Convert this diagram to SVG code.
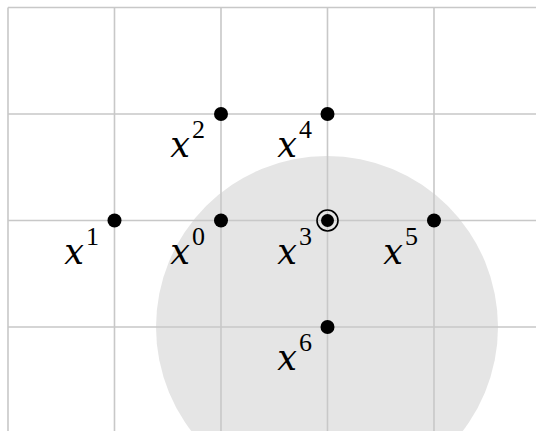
<svg xmlns="http://www.w3.org/2000/svg" width="536" height="431" viewBox="0 0 536 431">
<style>
.grid{stroke:#c8c8c8;stroke-width:1.6;fill:none}
.pt{fill:#000}
.lbl{font-family:"DejaVu Serif","Liberation Serif",serif;font-style:italic;font-size:35px;fill:#000;text-anchor:end}
.sup{font-family:"Liberation Serif","DejaVu Serif",serif;font-style:normal;font-size:26px}
</style>
<rect width="536" height="431" fill="#fff"/>
<circle cx="327" cy="327" r="171" fill="#e5e5e5"/>
<g id="grid" class="grid">
<path d="M8 7.5V431M114.5 7.5V431M221 7.5V431M327.5 7.5V431M434 7.5V431"/>
<path d="M8 7.5H536M8 114H536M8 220.5H536M8 327H536"/>
</g>
<g id="connectors"></g>
<g id="x0"><circle class="pt" cx="221" cy="220.5" r="7"/><text class="lbl" x="205" y="264">x<tspan class="sup" dx="2" dy="-19">0</tspan></text></g>
<g id="x1"><circle class="pt" cx="114.5" cy="220.5" r="7"/><text class="lbl" x="99" y="264">x<tspan class="sup" dx="2" dy="-19">1</tspan></text></g>
<g id="x2"><circle class="pt" cx="221" cy="114" r="7"/><text class="lbl" x="205" y="157">x<tspan class="sup" dx="2" dy="-19">2</tspan></text></g>
<g id="x3"><circle class="pt" cx="327.5" cy="220.5" r="6.5"/><circle cx="327.5" cy="220.5" r="10.5" fill="none" stroke="#000" stroke-width="1.6"/><text class="lbl" x="312" y="264">x<tspan class="sup" dx="2" dy="-19">3</tspan></text></g>
<g id="x4"><circle class="pt" cx="327.5" cy="114" r="7"/><text class="lbl" x="312" y="157">x<tspan class="sup" dx="2" dy="-19">4</tspan></text></g>
<g id="x5"><circle class="pt" cx="434" cy="220.5" r="7"/><text class="lbl" x="418" y="264">x<tspan class="sup" dx="2" dy="-19">5</tspan></text></g>
<g id="x6"><circle class="pt" cx="327.5" cy="327" r="7"/><text class="lbl" x="312" y="370">x<tspan class="sup" dx="2" dy="-19">6</tspan></text></g>
</svg>
